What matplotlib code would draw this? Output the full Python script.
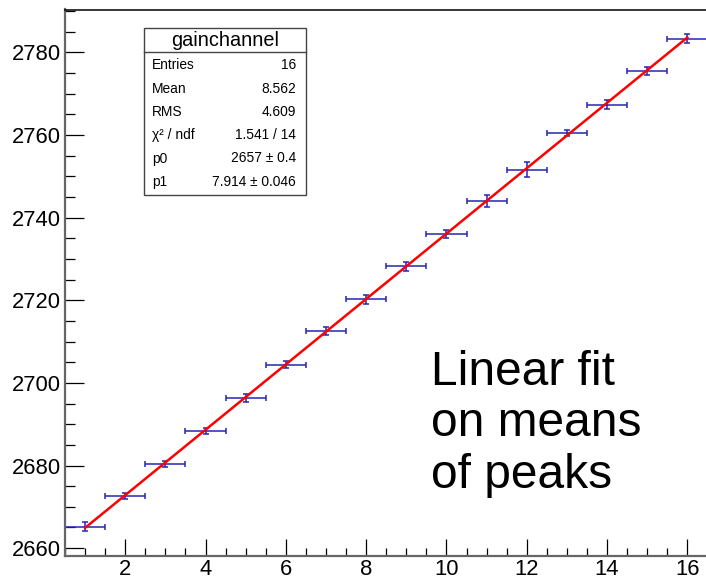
import numpy as np
import matplotlib
matplotlib.use("Agg")
import matplotlib.pyplot as plt
from matplotlib.ticker import MultipleLocator
from matplotlib.patches import Rectangle
from matplotlib.lines import Line2D

plt.rcParams['font.family'] = ['Liberation Sans', 'DejaVu Sans']

# gain per channel: peak means with errors
channel = [1, 2, 3, 4, 5, 6, 7, 8, 9, 10, 11, 12, 13, 14, 15, 16]
gain = [2665.2, 2672.6, 2680.4, 2688.4, 2696.4, 2704.4, 2712.6, 2720.2,
        2728.2, 2736.1, 2744.0, 2751.6, 2760.5, 2767.4, 2775.5, 2783.3]
gain_err = [1.1, 0.7, 0.7, 0.8, 0.9, 0.8, 0.9, 1.0,
            1.0, 1.0, 1.4, 1.8, 0.7, 1.0, 1.0, 1.1]
channel_err = [0.5] * 16

# fit results (pol1)
p0, p0_err = 2657, 0.4
p1, p1_err = 7.914, 0.046
stats = [("Entries", "16"),
         ("Mean", "8.562"),
         ("RMS", "4.609"),
         ("\u03c7\u00b2 / ndf", "1.541 / 14"),
         ("p0", "%d \u00b1 %.1f" % (p0, p0_err)),
         ("p1", "%.3f \u00b1 %.3f" % (p1, p1_err))]
note = ["Linear fit", "on means", "of peaks"]

W, H = 706, 581
fig = plt.figure(figsize=(W / 100, H / 100), dpi=100)
ax = fig.add_axes([65 / W, 1 - 556 / H, 1 - 65 / W + 0.002, (556 - 9.5) / H])

ax.errorbar(channel, gain, xerr=channel_err, yerr=gain_err, fmt='none',
            ecolor='#2626b0', elinewidth=1.1, capsize=2, capthick=1.1, zorder=2)

xf = np.linspace(channel[0], channel[-1], 100)
ax.plot(xf, p0 + p1 * xf, color='red', lw=1.8, zorder=3)

ax.set_xlim(0.5, 16.5)
ax.set_ylim(2658.1, 2790.4)

ax.xaxis.set_major_locator(MultipleLocator(2))
ax.xaxis.set_minor_locator(MultipleLocator(0.5))
ax.yaxis.set_major_locator(MultipleLocator(20))
ax.yaxis.set_minor_locator(MultipleLocator(5))

ax.tick_params(axis='both', which='both', direction='in', color='black', width=0.9,
               top=False, right=False, labelsize=15.8)
ax.tick_params(axis='x', which='major', length=12.5, pad=2)
ax.tick_params(axis='x', which='minor', length=6)
ax.tick_params(axis='y', which='major', length=13.5, pad=3)
ax.tick_params(axis='y', which='minor', length=7.5)

for side in ['left', 'bottom']:
    ax.spines[side].set_color('#666666')
    ax.spines[side].set_linewidth(1.6)
ax.spines['top'].set_color('black')
ax.spines['top'].set_linewidth(1.1)
ax.spines['right'].set_visible(False)

# statistics box
def fx(px):
    return px / W

def fy(py):
    return 1 - py / H

bl, br, bt, bb, bh = 143.5, 306, 27.5, 194.5, 52.3
fig.patches.append(Rectangle((fx(bl), fy(bb)), fx(br) - fx(bl), fy(bt) - fy(bb),
                             transform=fig.transFigure, facecolor='white',
                             edgecolor='#444444', lw=1.0, zorder=5))
fig.lines.append(Line2D([fx(bl), fx(br)], [fy(bh), fy(bh)],
                        transform=fig.transFigure, color='#444444', lw=1.0, zorder=6))
fig.text(fx((bl + br) / 2), fy(40), "gainchannel", ha='center', va='center',
         fontsize=14.3, zorder=7)
row_y = [65, 89, 112.3, 135.5, 158.5, 182.5]
for (lab, val), ry in zip(stats, row_y):
    fig.text(fx(152), fy(ry), lab, ha='left', va='center', fontsize=9.9, zorder=7)
    fig.text(fx(296), fy(ry), val, ha='right', va='center', fontsize=9.9, zorder=7)

# annotation, one line at a time
for line, base in zip(note, [385, 436.5, 487.5]):
    fig.text(fx(431), fy(base), line, ha='left', va='baseline', fontsize=34.5)

fig.savefig("out.png", dpi=100)
